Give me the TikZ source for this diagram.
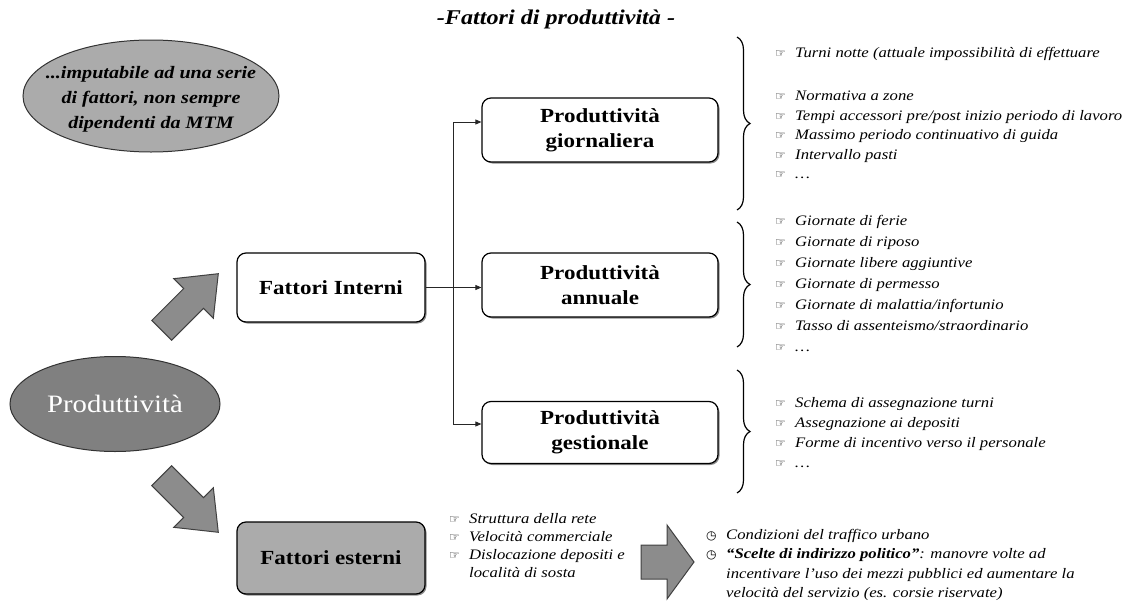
\documentclass[tikz,border=0pt]{standalone}
\usepackage{fontspec}
\setmainfont{Liberation Serif}[FakeStretch=1.15]
\newfontfamily\symf{DejaVu Sans}
\usetikzlibrary{shapes.geometric,arrows.meta,decorations.pathreplacing,shadows,calc}
\newcommand\bl{\makebox[20pt][l]{\symf\fontsize{12}{12}\selectfont ☞}}
\newcommand\bc{\makebox[20pt][l]{\symf\fontsize{12}{12}\selectfont ◷}}
\begin{document}
\begin{tikzpicture}[x=1pt,y=-1pt,
  pbox/.style={draw=black, line width=1.2pt, rounded corners=9pt, fill=white, align=center,
    inner sep=0pt, font=\bfseries\fontsize{20}{25}\selectfont,
    drop shadow={shadow xshift=1.5pt, shadow yshift=-1.5pt, fill=black!45, opacity=1}},
  ell/.style={ellipse, draw=black!80, line width=1pt, inner sep=0pt},
  lst/.style={anchor=north west, align=left, inner sep=0pt, font=\itshape\fontsize{14.5}{19.5}\selectfont},
  barrow/.style={fill=black!45, draw=black!75, line width=1pt, line join=miter},
  brc/.style={decorate, decoration={brace, amplitude=13pt}, line width=1.2pt},
  conn/.style={line width=0.8pt, draw=black!85, -{Triangle[length=6pt,width=5pt]}}
]
\useasboundingbox (0,0) rectangle (1135,608);

% title
\node[font=\bfseries\itshape\fontsize{21}{25}\selectfont] (title) at (556,19) {-Fattori di produttività -};

% ellipses
\node[ell, fill=black!33, minimum width=256pt, minimum height=112pt] (e1) at (151,96) {};
\node[font=\bfseries\itshape\fontsize{17.5}{25}\selectfont, align=center, inner sep=0pt] (e1t) at ($(e1.center)+(0,3)$)
  {...imputabile ad una serie\\di fattori, non sempre\\dipendenti da MTM};
\node[ell, fill=black!50, minimum width=210pt, minimum height=95pt] (prod) at (115,404) {};
\node[text=white, font=\fontsize{25}{28}\selectfont, inner sep=0pt] (prodt) at (prod.center) {Produttività};

% block arrows
\draw[barrow, shift={(190,302)}, rotate=45] (-40,-14) -- (5,-14) -- (5,-28) -- (40,0) -- (5,28) -- (5,14) -- (-40,14) -- cycle;
\draw[barrow, shift={(190,504)}, rotate=-45] (-40,-14) -- (5,-14) -- (5,-28) -- (40,0) -- (5,28) -- (5,14) -- (-40,14) -- cycle;
\draw[barrow, shift={(667,562)}] (-26,-17) -- (0,-17) -- (0,-37) -- (27,0) -- (0,37) -- (0,17) -- (-26,17) -- cycle;

% boxes
\node[pbox, minimum width=188pt, minimum height=69pt] (fi) at (331,287.5) {Fattori Interni};
\node[pbox, minimum width=188pt, minimum height=72pt, fill=black!33] (fe) at (331,558) {Fattori esterni};
\node[pbox, minimum width=236pt, minimum height=64pt] (pg) at (600,130) {Produttività\\giornaliera};
\node[pbox, minimum width=236pt, minimum height=64pt] (pa) at (600,285) {Produttività\\annuale};
\node[pbox, minimum width=236pt, minimum height=62pt] (pge) at (600,432.5) {Produttività\\gestionale};

% connectors
\coordinate (j1) at (453,122);
\coordinate (j3) at (453,424);
\draw[conn] (fi.east) -- (fi.east -| pa.west);
\draw[line width=0.8pt, draw=black!85] (j1) -- (j3);
\draw[conn] (j1) -- (j1 -| pg.west);
\draw[conn] (j3) -- (j3 -| pge.west);

% braces
\coordinate (b1t) at (737,37);  \coordinate (b1b) at (737,210);
\coordinate (b2t) at (737,222); \coordinate (b2b) at (737,347);
\coordinate (b3t) at (737,370); \coordinate (b3b) at (737,493);
\draw[brc] (b1t) -- (b1b);
\draw[brc] (b2t) -- (b2b);
\draw[brc] (b3t) -- (b3b);

% lists
\node[lst] (l1) at (775,47) {\bl Turni notte (attuale impossibilità di effettuare\\[24pt]
  \bl Normativa a zone\\
  \bl Tempi accessori pre/post inizio periodo di lavoro\\
  \bl Massimo periodo continuativo di guida\\
  \bl Intervallo pasti\\
  \bl …};
\node[lst, font=\itshape\fontsize{14.5}{21}\selectfont] (l2) at (775,215) {\bl Giornate di ferie\\
  \bl Giornate di riposo\\
  \bl Giornate libere aggiuntive\\
  \bl Giornate di permesso\\
  \bl Giornate di malattia/infortunio\\
  \bl Tasso di assenteismo/straordinario\\
  \bl …};
\node[lst, font=\itshape\fontsize{14.5}{20}\selectfont] (l3) at (775,397) {\bl Schema di assegnazione turni\\
  \bl Assegnazione ai depositi\\
  \bl Forme di incentivo verso il personale\\
  \bl …};
\node[lst, font=\itshape\fontsize{14.5}{18}\selectfont] (l4) at (449,513) {\bl Struttura della rete\\
  \bl Velocità commerciale\\
  \bl Dislocazione depositi e\\
  \hspace*{20pt}località di sosta};
\node[lst] (l5) at (706,529) {\bc Condizioni del traffico urbano\\
  \bc \textbf{“Scelte di indirizzo politico”}: manovre volte ad\\
  \hspace*{20pt}incentivare l’uso dei mezzi pubblici ed aumentare la\\
  \hspace*{20pt}velocità del servizio (es. corsie riservate)};
\end{tikzpicture}
\end{document}
